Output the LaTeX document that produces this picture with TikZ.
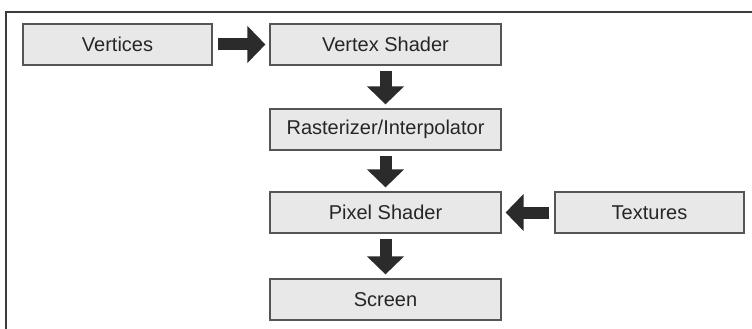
\documentclass[tikz,border=0pt]{standalone}
\usepackage{fontspec}
\setmainfont{Liberation Sans}
\usetikzlibrary{arrows.meta}
\definecolor{boxfill}{HTML}{E8E8E8}
\definecolor{boxline}{HTML}{555555}
\definecolor{arrowcol}{HTML}{2B2B2B}
\definecolor{framecol}{HTML}{3C3C3C}
\definecolor{textcol}{HTML}{262626}
\begin{document}
\begin{tikzpicture}[x=1pt,y=-1pt,
  stagebox/.style={draw=boxline, line width=1.2pt, fill=boxfill, minimum height=41pt,
    inner sep=0pt, text=textcol, font=\fontsize{20}{23}\selectfont},
  narrowbox/.style={stagebox, minimum width=189pt},
  widebox/.style={stagebox, minimum width=231pt},
  bigarrow/.style={draw=arrowcol, line width=12pt,
    -{Triangle[width=36pt,length=18pt]}, arrowcol, shorten <=5pt, shorten >=4pt}]
\useasboundingbox (0,0) rectangle (752,329);
\draw[framecol, line width=1.3pt] (6,329) -- (6,12) -- (752,12);
\node[narrowbox] (vert) at (117.5,44.5) {Vertices};
\node[widebox] (vs) at (385.5,44.5) {Vertex Shader};
\node[widebox] (rast) at (385.5,129.5) {Rasterizer/Interpolator};
\node[widebox] (ps) at (385.5,212.5) {Pixel Shader};
\node[narrowbox] (tex) at (649.5,212.5) {Textures};
\node[widebox] (scr) at (385.5,299.5) {Screen};
\draw[bigarrow] (vert) -- (vs);
\draw[bigarrow] (vs) -- (rast);
\draw[bigarrow] (rast) -- (ps);
\draw[bigarrow] (tex) -- (ps);
\draw[bigarrow] (ps) -- (scr);
\end{tikzpicture}
\end{document}
